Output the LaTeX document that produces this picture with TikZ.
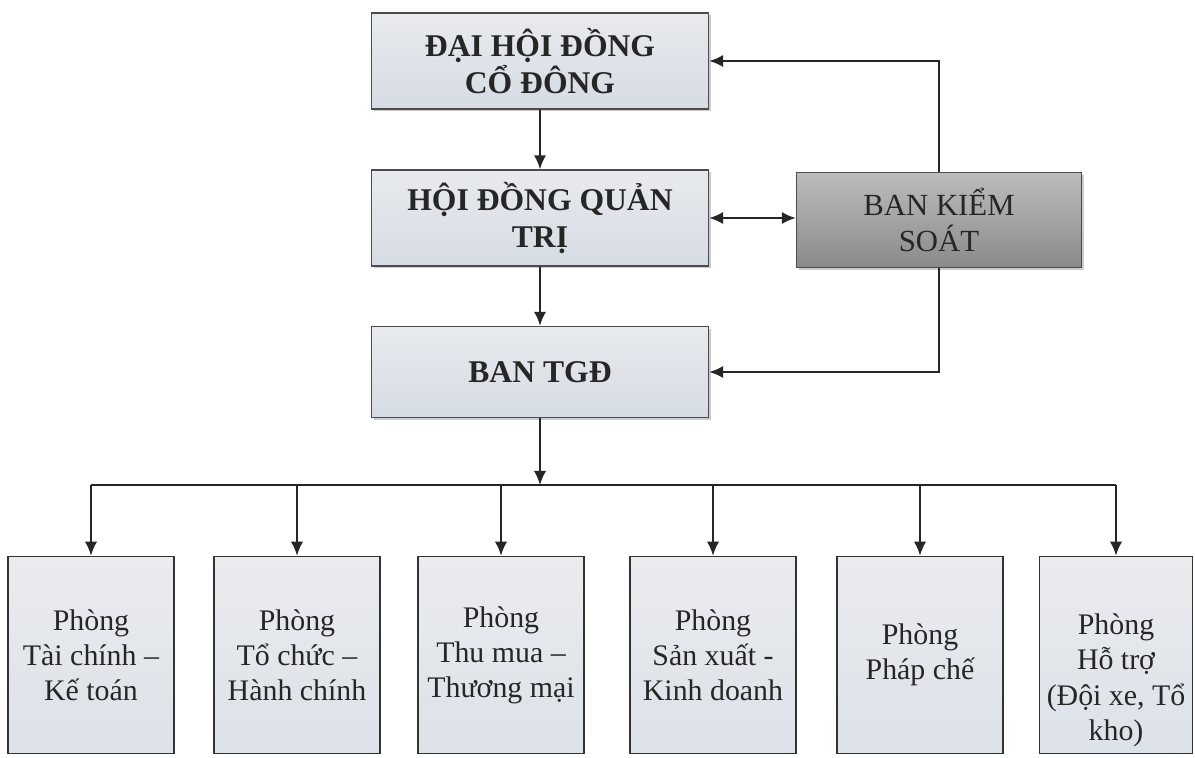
\documentclass[tikz,border=0pt]{standalone}
\usepackage{fontspec}
\setmainfont{Liberation Serif}
\usetikzlibrary{calc,arrows.meta,shadows}
\definecolor{boxtop}{RGB}{232,234,238}
\definecolor{boxbot}{RGB}{214,220,228}
\definecolor{bkstop}{RGB}{188,188,190}
\definecolor{bksbot}{RGB}{136,138,140}
\definecolor{phtop}{RGB}{234,235,238}
\definecolor{phbot}{RGB}{220,226,233}

\begin{document}
\begin{tikzpicture}[x=0.02cm,y=-0.02cm,
    >={Latex[length=8pt,width=7pt]},
    conn/.style={line width=1.1pt,black!85},
    topbox/.style={draw=black!70,line width=0.8pt,top color=boxtop,bottom color=boxbot,
      minimum width=6.74cm,minimum height=1.92cm,align=center,text=black!85,
      font=\fontsize{18}{21}\selectfont\bfseries,
      drop shadow={shadow xshift=1.3pt,shadow yshift=-1.3pt,fill=black!40}},
    bksbox/.style={draw=black!70,line width=0.8pt,top color=bkstop,bottom color=bksbot,
      minimum width=5.7cm,minimum height=1.9cm,align=center,text=black!85,
      font=\fontsize{17.5}{20.5}\selectfont,
      drop shadow={shadow xshift=1.3pt,shadow yshift=-1.3pt,fill=black!40}},
    phong/.style={draw=black!80,line width=0.9pt,top color=phtop,bottom color=phbot,
      minimum width=3.32cm,minimum height=3.94cm,align=center,text=black!85,inner sep=1pt,
      font=\fontsize{17}{20}\selectfont}]
  \useasboundingbox (0,0) rectangle (1195,757);
  % upper levels
  \node[topbox] (dhdcd) at (540,61) {ĐẠI HỘI ĐỒNG\\CỔ ĐÔNG};
  \node[topbox] (hdqt) at (540,218) {HỘI ĐỒNG QUẢN\\TRỊ};
  \node[topbox,minimum height=1.82cm] (tgd) at (540,372) {BAN TGĐ};
  \node[bksbox] (bks) at (939,220) {BAN KIỂM\\SOÁT};
  \draw[conn,->] (dhdcd) -- (hdqt);
  \draw[conn,->] (hdqt) -- (tgd);
  \draw[conn,<->] (hdqt.east) -- (hdqt.east -| bks.west);
  \draw[conn,->] (bks.north) |- (dhdcd.east);
  \draw[conn,->] (bks.south) |- (tgd.east);
  % departments
  \node[phong] (p1) at (91,655) {Phòng\\Tài chính –\\Kế toán};
  \node[phong] (p2) at (297,655) {Phòng\\Tổ chức –\\Hành chính};
  \node[phong] (p3) at (501,655) {Phòng\\Thu mua –\\Thương mại};
  \node[phong] (p4) at (713,655) {Phòng\\Sản xuất -\\Kinh doanh};
  \node[phong] (p5) at (920,655) {Phòng\\Pháp chế};
  \node[phong,minimum width=3.06cm,
    label={[anchor=north,yshift=-33pt,inner sep=0pt,align=center,text=black!85,
      font=\fontsize{17}{20}\selectfont]north:Phòng\\Hỗ trợ\\(Đội xe, Tổ\\kho)}] (p6) at (1116,655) {};
  \coordinate (bus) at (540,485);
  \draw[conn,->] (tgd) -- (bus);
  \draw[conn] (p1.north |- bus) -- (p6.north |- bus);
  \foreach \p in {p1,p2,p3,p4,p5,p6}
    \draw[conn,->] (\p.north |- bus) -- (\p.north);
\end{tikzpicture}
\end{document}
